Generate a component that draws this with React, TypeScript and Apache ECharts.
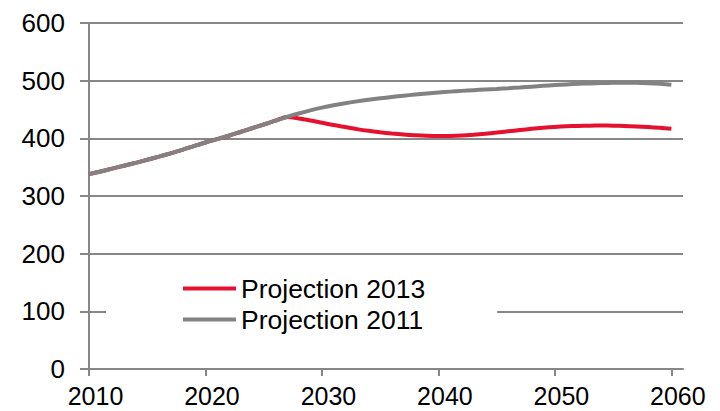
import React, { useEffect, useRef } from "react";
import * as echarts from "echarts";

const years: number[] = [];
for (let y = 2010; y <= 2060; y++) years.push(y);

const projection2011 = [
  338, 342.5, 347.5, 352.5, 357.5, 362.8, 368.3, 374, 380, 386.5,
  392.8, 398.5, 404.5, 411, 417.5, 424, 430.6, 437, 443, 448.5,
  453.3, 457.4, 461, 464.1, 466.9, 469.4, 471.7, 473.9, 475.9, 477.8,
  479.5, 481, 482.3, 483.5, 484.6, 485.7, 486.9, 488.2, 489.6, 491,
  492.3, 493.5, 494.5, 495.3, 495.9, 496.3, 496.4, 496.2, 495.6, 494.6,
  493,
];

const projection2013 = [
  338, 342.5, 347.5, 352.5, 357.5, 362.8, 368.3, 374, 380, 386.5,
  392.8, 398.5, 404.5, 411, 417.5, 424, 430.6, 437, 434.5, 431,
  427, 423, 419.5, 416, 413, 410.5, 408.3, 406.5, 405.2, 404.3,
  404, 404.1, 404.8, 406.2, 408, 410, 412.2, 414.4, 416.5, 418.3,
  419.8, 420.9, 421.6, 422, 422.1, 421.9, 421.4, 420.6, 419.5, 418.2,
  416.5,
];

const xTicks = [2010, 2020, 2030, 2040, 2050, 2060];
const seriesNames = ["Projection 2013", "Projection 2011"];

const RED = "#E4122E";
const GRAY = "#828282";
const AXIS = "#878787";
const FONT = "'Liberation Sans', Arial, sans-serif";

export default function App() {
  const ref = useRef<HTMLDivElement>(null);
  useEffect(() => {
    if (!ref.current) return;
    const chart = echarts.init(ref.current, null, { renderer: "svg" });
    chart.setOption({
      animation: false,
      backgroundColor: "#ffffff",
      textStyle: { fontFamily: FONT },
      grid: { left: 89, right: 37, top: 23, bottom: 42, containLabel: false, outerBoundsMode: "none" },
      legend: {
        orient: "vertical",
        left: 106,
        top: 265,
        backgroundColor: "#ffffff",
        padding: [10, 72, 10, 77],
        itemWidth: 53,
        itemHeight: 4,
        itemGap: 4,
        icon: "rect",
        data: seriesNames,
        textStyle: { fontSize: 26.5, color: "#000", fontFamily: FONT, lineHeight: 26 },
      },
      xAxis: {
        type: "value",
        min: 2010,
        max: 2061,
        interval: 10,
        axisLine: { show: true, lineStyle: { color: AXIS, width: 2 } },
        axisTick: { show: true, length: 7, lineStyle: { color: AXIS, width: 2 }, customValues: xTicks },
        axisLabel: {
          customValues: xTicks,
          fontSize: 25,
          lineHeight: 22,
          color: "#000",
          fontFamily: FONT,
          margin: 16,
          padding: [0, 0, 0, 13],
          formatter: (v: number) => String(v),
        },
        splitLine: { show: false },
      },
      yAxis: {
        type: "value",
        min: 0,
        max: 600,
        interval: 100,
        axisLine: { show: true, lineStyle: { color: AXIS, width: 2 } },
        axisTick: { show: true, length: 9, lineStyle: { color: AXIS, width: 2 } },
        axisLabel: { fontSize: 26, color: "#000", fontFamily: FONT, margin: 24 },
        splitLine: { show: true, lineStyle: { color: AXIS, width: 2 } },
      },
      series: [
        {
          name: seriesNames[0],
          type: "line",
          data: years.map((y, i) => [y, projection2013[i]]),
          showSymbol: false,
          symbol: "none",
          smooth: 0.3,
          color: RED,
          lineStyle: { color: RED, width: 4 },
          z: 2,
        },
        {
          name: seriesNames[1],
          type: "line",
          data: years.map((y, i) => [y, projection2011[i]]),
          showSymbol: false,
          symbol: "none",
          smooth: 0.3,
          color: GRAY,
          lineStyle: { color: GRAY, width: 4 },
          z: 3,
        },
      ],
    });
    return () => chart.dispose();
  }, []);
  return (
    <div
      ref={ref}
      style={{ position: "fixed", left: 0, top: 0, width: 720, height: 411 }}
    />
  );
}
